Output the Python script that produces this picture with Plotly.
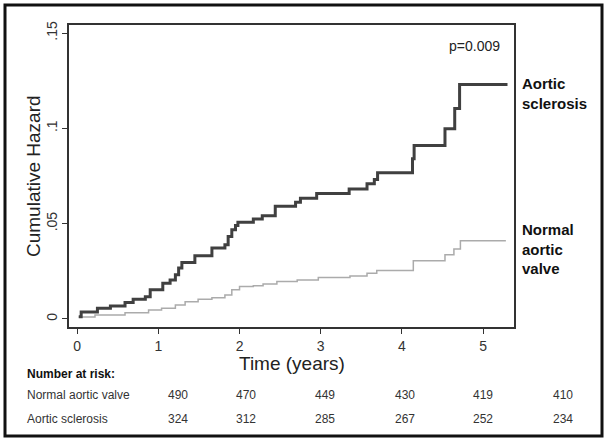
import plotly.graph_objects as go

# ---- data ----
sclerosis_t = [0.02, 0.05, 0.25, 0.41, 0.59, 0.69, 0.84, 0.90, 1.055, 1.145, 1.21, 1.25, 1.29, 1.45,
               1.66, 1.82, 1.86, 1.905, 1.95, 1.98, 2.17, 2.28, 2.44, 2.69, 2.75, 2.95, 3.35, 3.57,
               3.66, 3.70, 4.13, 4.15, 4.53, 4.65, 4.71, 5.30]
sclerosis_h = [0.0012, 0.0037, 0.0056, 0.0068, 0.0086, 0.0104, 0.0117, 0.0153, 0.0188, 0.0205, 0.0232,
               0.0267, 0.0296, 0.0332, 0.0372, 0.0390, 0.0433, 0.0468, 0.0490, 0.0507, 0.0525, 0.0542,
               0.0591, 0.0612, 0.0633, 0.0658, 0.0682, 0.0709, 0.0732, 0.0767, 0.0840, 0.0910, 0.0998,
               0.1104, 0.1230, 0.1230]
normal_t = [0.02, 0.22, 0.59, 0.88, 1.04, 1.21, 1.33, 1.49, 1.66, 1.82, 1.905, 2.0, 2.17, 2.29, 2.46,
            2.71, 2.97, 3.36, 3.57, 3.69, 4.14, 4.53, 4.64, 4.72, 5.28]
normal_h = [0.0010, 0.0021, 0.0033, 0.0047, 0.0056, 0.0074, 0.0091, 0.0104, 0.0112, 0.0126, 0.0153,
            0.0170, 0.0175, 0.0184, 0.0196, 0.0205, 0.0218, 0.0226, 0.0240, 0.0254, 0.0305, 0.0337,
            0.0367, 0.0410, 0.0410]
x_ticks = [0, 1, 2, 3, 4, 5]
y_tickvals = [0, 0.05, 0.1, 0.15]
y_ticktext = ["0", ".05", ".1", ".15"]
risk_rows = ["Normal aortic valve", "Aortic sclerosis"]
risk_normal = [490, 470, 449, 430, 419, 410]
risk_sclerosis = [324, 312, 285, 267, 252, 234]

W, H = 608, 443
L, T, R, B = 69, 25, 514, 327
pw, ph = R - L, B - T


def px(x):
    return (x - L) / pw


def py(y):
    return (B - y) / ph


FONT = "Liberation Sans, Arial, sans-serif"

fig = go.Figure()
fig.add_trace(go.Scatter(x=normal_t, y=normal_h, mode="lines", line_shape="hv",
                         line=dict(color="#ababab", width=1.5), showlegend=False))
fig.add_trace(go.Scatter(x=sclerosis_t, y=sclerosis_h, mode="lines", line_shape="hv",
                         line=dict(color="#404040", width=3), showlegend=False))

fig.update_layout(
    width=W, height=H,
    margin=dict(l=L, t=T, r=W - R, b=H - B),
    paper_bgcolor="white", plot_bgcolor="white",
    font=dict(family=FONT, color="#333333"),
    xaxis=dict(range=[-0.1, 5.38], tickvals=x_ticks, ticks="outside", ticklen=5, tickwidth=1.2,
               tickcolor="#333", showline=True, linecolor="#333", linewidth=1.5, mirror=True,
               showgrid=False, zeroline=False, tickfont=dict(size=14, color="#333")),
    yaxis=dict(range=[-0.0042, 0.1542], tickvals=y_tickvals, ticktext=y_ticktext, tickangle=-90,
               ticks="outside", ticklen=5, tickwidth=1.2, tickcolor="#333", showline=True,
               linecolor="#333", linewidth=1.5, mirror=True, showgrid=False, zeroline=False,
               tickfont=dict(size=14, color="#333")),
)

# outer frame
fig.add_shape(type="rect", xref="paper", yref="paper", x0=px(5), x1=px(602), y0=py(436), y1=py(5),
              line=dict(color="#111", width=3), layer="above")

ann = []
ann.append(dict(x=px(291.5), y=py(363), text="Time (years)", font=dict(size=19, color="#222")))
ann.append(dict(x=px(33), y=py(176), text="Cumulative Hazard", textangle=-90,
                font=dict(size=19, color="#222")))
ann.append(dict(x=px(502), y=py(46), text="p=0.009", xanchor="right", font=dict(size=14, color="#222")))
ann.append(dict(x=px(520), y=py(93), text="<b>Aortic<br>sclerosis</b>", xanchor="left", align="left",
                font=dict(size=15, color="#111")))
ann.append(dict(x=px(520), y=py(249), text="<b>Normal<br>aortic<br>valve</b>", xanchor="left",
                align="left", font=dict(size=15, color="#111")))
ann.append(dict(x=px(25), y=py(374), text="<b>Number at risk:</b>", xanchor="left",
                font=dict(size=12, color="#111")))
row_y = [395, 419]
col_x = [178, 246, 325, 405, 483, 563]
for label, vals, yy in zip(risk_rows, [risk_normal, risk_sclerosis], row_y):
    ann.append(dict(x=px(25), y=py(yy), text=label, xanchor="left", font=dict(size=12, color="#333")))
    for v, xx in zip(vals, col_x):
        ann.append(dict(x=px(xx), y=py(yy), text=str(v), font=dict(size=12, color="#333")))

for a in ann:
    a.update(xref="paper", yref="paper", showarrow=False)
    a.setdefault("xanchor", "center")
    a.setdefault("yanchor", "middle")
fig.update_layout(annotations=ann)

fig.write_html("out.html", config={"displayModeBar": False},
               post_script="document.body.style.margin='0';document.body.style.overflow='hidden';")
